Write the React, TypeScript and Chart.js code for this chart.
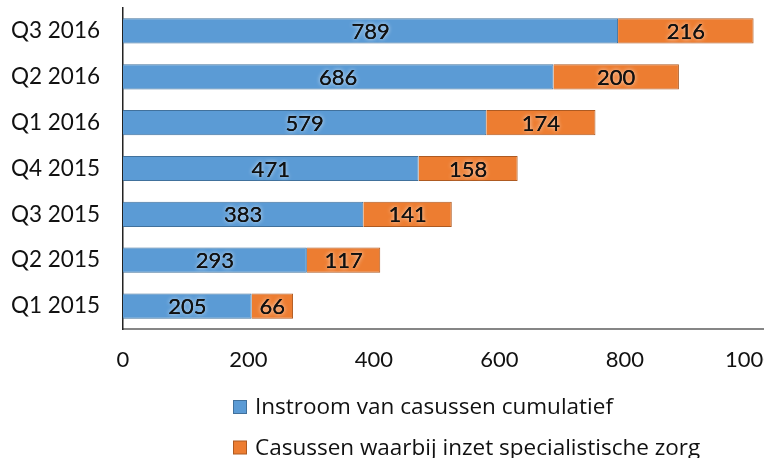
import React, { useEffect, useRef } from "react";
import { Chart, registerables } from "chart.js";

Chart.register(...registerables);

const categories = ["Q3 2016", "Q2 2016", "Q1 2016", "Q4 2015", "Q3 2015", "Q2 2015", "Q1 2015"];
const instroom = [789, 686, 579, 471, 383, 293, 205];
const specialistisch = [216, 200, 174, 158, 141, 117, 66];
const seriesLabels = ["Instroom van casussen cumulatief", "Casussen waarbij inzet specialistische zorg"];
const xTicks = [0, 200, 400, 600, 800, 1000];

const FONT = "Lato, 'Open Sans', sans-serif";
const LEGEND_FONT = "'Open Sans', Lato, sans-serif";

const valueLabels = {
  id: "valueLabels",
  afterDatasetsDraw(chart: any) {
    const ctx = chart.ctx;
    ctx.save();
    ctx.font = `22px ${FONT}`;
    ctx.textAlign = "center";
    ctx.textBaseline = "middle";
    chart.data.datasets.forEach((ds: any, di: number) => {
      const meta = chart.getDatasetMeta(di);
      meta.data.forEach((bar: any, i: number) => {
        const cx = (bar.x + bar.base) / 2;
        const cy = bar.y + 1;
        ctx.shadowColor = "rgba(255,255,255,0.9)";
        ctx.shadowBlur = 4;
        ctx.fillStyle = "#111";
        ctx.fillText(String(ds.data[i]), cx, cy);
        ctx.shadowBlur = 0;
        ctx.fillText(String(ds.data[i]), cx, cy);
      });
    });
    ctx.restore();
  },
};

const customLegend = {
  id: "customLegend",
  afterDraw(chart: any) {
    const ctx = chart.ctx;
    ctx.save();
    ctx.font = `22.5px ${LEGEND_FONT}`;
    ctx.textAlign = "left";
    ctx.textBaseline = "middle";
    const rows = [407, 447.5];
    chart.data.datasets.forEach((ds: any, di: number) => {
      const y = rows[di];
      ctx.fillStyle = ds.backgroundColor;
      ctx.strokeStyle = ds.borderColor;
      ctx.lineWidth = 1;
      ctx.fillRect(233.5, y - 6.5, 13, 13);
      ctx.strokeRect(233.5, y - 6.5, 13, 13);
      ctx.fillStyle = "#111";
      ctx.fillText(ds.label, 255, y + 1);
    });
    ctx.restore();
  },
};

export default function App() {
  const ref = useRef<HTMLCanvasElement>(null);
  useEffect(() => {
    if (!ref.current) return;
    const chart = new Chart(ref.current, {
      type: "bar",
      data: {
        labels: categories,
        datasets: [
          {
            label: seriesLabels[0],
            data: instroom,
            backgroundColor: "#5B9BD5",
            borderColor: "#41719C",
            borderWidth: 1,
            barPercentage: 0.55,
            categoryPercentage: 1,
          },
          {
            label: seriesLabels[1],
            data: specialistisch,
            backgroundColor: "#ED7D31",
            borderColor: "#AE5A21",
            borderWidth: 1,
            barPercentage: 0.55,
            categoryPercentage: 1,
          },
        ],
      },
      options: {
        indexAxis: "y",
        animation: false,
        responsive: false,
        layout: { padding: { top: 8, bottom: 79, right: 37, left: 0 } },
        plugins: {
          legend: { display: false },
          tooltip: { enabled: false },
        },
        scales: {
          x: {
            stacked: true,
            min: 0,
            max: 1020,
            afterBuildTicks: (scale: any) => {
              scale.ticks = xTicks.map((v) => ({ value: v }));
            },
            afterFit: (scale: any) => {
              scale.height = 50;
            },
            grid: { display: false, drawTicks: false },
            border: { display: true, color: "#868686", width: 2 },
            ticks: {
              color: "#111",
              font: { family: FONT, size: 22 },
              padding: 18,
              maxRotation: 0,
              autoSkip: false,
              callback: (v: any) => String(v),
            },
          },
          y: {
            stacked: true,
            afterFit: (scale: any) => {
              scale.width = 123;
              scale.paddingTop = 0;
              scale.paddingBottom = 0;
            },
            grid: { display: false, drawTicks: false },
            border: { display: true, color: "#222", width: 1.5 },
            ticks: {
              color: "#111",
              font: { family: FONT, size: 22.5 },
              padding: 23,
            },
          },
        },
      },
      plugins: [valueLabels, customLegend],
    });
    return () => chart.destroy();
  }, []);
  return (
    <div style={{ position: "fixed", left: 0, top: 0, width: 764, height: 458, overflow: "hidden", background: "#fff" }}>
      <canvas ref={ref} width={800} height={458} style={{ display: "block" }} />
    </div>
  );
}
